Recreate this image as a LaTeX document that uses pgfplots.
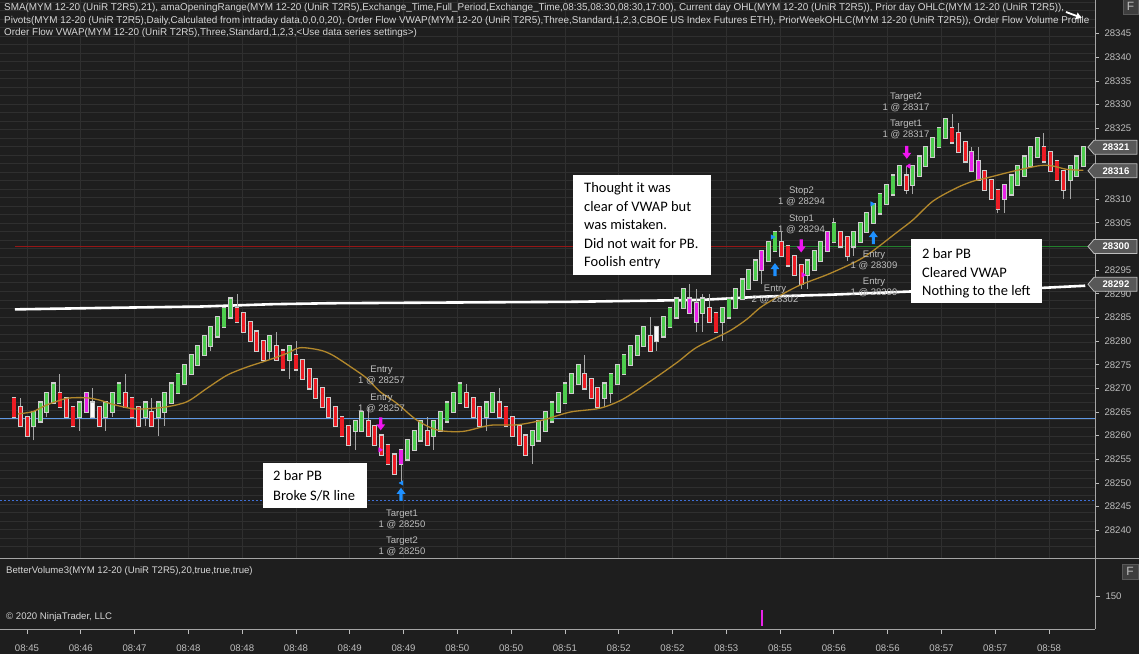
\documentclass[border=0pt]{standalone}
\usepackage{pgfplots}
\pgfplotsset{compat=1.18}
\usepackage{pgfplotstable}
\usepackage{fontspec}
\setmainfont{Liberation Sans}
\newfontfamily\calibri{Carlito}
\usetikzlibrary{arrows.meta}

\definecolor{bgc}{RGB}{30,30,30}
\definecolor{gridc}{RGB}{47,47,47}
\definecolor{upc}{RGB}{78,205,78}
\definecolor{dnc}{RGB}{236,28,36}
\definecolor{mgc}{RGB}{232,36,232}
\definecolor{whc}{RGB}{250,250,250}
\definecolor{edgec}{RGB}{205,205,205}
\definecolor{wickc}{RGB}{165,165,165}
\definecolor{smac}{RGB}{178,136,44}
\definecolor{bluec}{RGB}{96,152,228}
\definecolor{dashc}{RGB}{64,112,214}
\definecolor{pdhc}{RGB}{150,22,22}
\definecolor{cdhc}{RGB}{34,128,44}
\definecolor{lblc}{RGB}{190,190,190}
\definecolor{hdrc}{RGB}{215,215,215}
\definecolor{sepc}{RGB}{165,165,165}
\definecolor{arrm}{RGB}{240,20,240}
\definecolor{arrb}{RGB}{30,144,255}
\definecolor{boxc}{RGB}{88,88,88}

\newcommand\tickf{\fontsize{9.6bp}{11bp}\selectfont}
\newcommand\tlf{\fontsize{9.5bp}{11bp}\selectfont}
\newcommand\hdrf{\fontsize{9.9bp}{12.5bp}\selectfont}
\newcommand\notef{\calibri\fontsize{14.5bp}{18.5bp}\selectfont}

% trade arrows
\pgfdeclareplotmark{dnarrow}{%
  \pgfpathmoveto{\pgfqpoint{-1.6bp}{7bp}}%
  \pgfpathlineto{\pgfqpoint{1.6bp}{7bp}}%
  \pgfpathlineto{\pgfqpoint{1.6bp}{0bp}}%
  \pgfpathlineto{\pgfqpoint{4.5bp}{0bp}}%
  \pgfpathlineto{\pgfqpoint{0bp}{-6bp}}%
  \pgfpathlineto{\pgfqpoint{-4.5bp}{0bp}}%
  \pgfpathlineto{\pgfqpoint{-1.6bp}{0bp}}%
  \pgfpathclose
  \pgfusepathqfill}
\pgfdeclareplotmark{uparrow}{%
  \pgfpathmoveto{\pgfqpoint{-1.6bp}{-7bp}}%
  \pgfpathlineto{\pgfqpoint{1.6bp}{-7bp}}%
  \pgfpathlineto{\pgfqpoint{1.6bp}{0bp}}%
  \pgfpathlineto{\pgfqpoint{4.5bp}{0bp}}%
  \pgfpathlineto{\pgfqpoint{0bp}{6bp}}%
  \pgfpathlineto{\pgfqpoint{-4.5bp}{0bp}}%
  \pgfpathlineto{\pgfqpoint{-1.6bp}{0bp}}%
  \pgfpathclose
  \pgfusepathqfill}

\pgfplotsset{
  table/wickcols/.style={x=i, y=l,
    y error plus expr={\thisrow{h}-\thisrow{l}}, y error minus expr={0}},
  table/bodycols/.style={x=i, y=o,
    y error plus expr={max(\thisrow{c}-\thisrow{o},0)},
    y error minus expr={max(\thisrow{o}-\thisrow{c},0)}},
  table/edgecols/.style={x=i, y=o,
    y error plus expr={max(\thisrow{c}-\thisrow{o},0)+0.25},
    y error minus expr={max(\thisrow{o}-\thisrow{c},0)+0.25}},
  bars/.style={forget plot, draw=none,
    error bars/y dir=both, error bars/y explicit, error bars/error mark=none},
}
% one set of candles: wick, light edge, coloured body
\newcommand\candleset[2]{%
  \addplot[bars, error bars/error bar style={draw=wickc, line width=1bp}] table[wickcols] {#1};
  \addplot[bars, error bars/error bar style={draw=edgec, line width=4.8bp}] table[edgecols] {#1};
  \addplot[bars, error bars/error bar style={draw=#2, line width=3.2bp}] table[bodycols] {#1};}

% bar index, open, high, low, close
\pgfplotstableread{
i o h l c
3 28262 28265 28259 28265
4 28263 28267 28263 28267
5 28265 28269 28264 28269
6 28267 28271 28267 28271
10 28264 28267 28261 28267
14 28264 28267 28261 28267
15 28265 28269 28264 28269
16 28267 28271 28267 28271
20 28264 28267 28262 28267
22 28264 28267 28260 28267
23 28265 28269 28262 28269
24 28267 28271 28267 28271
25 28269 28273 28269 28273
26 28271 28275 28271 28275
27 28273 28277 28273 28277
28 28275 28279 28275 28279
29 28277 28281 28277 28281
30 28279 28283 28278 28283
31 28281 28285 28281 28285
32 28283 28287 28283 28287
33 28285 28289 28285 28289
39 28278 28281 28276 28281
42 28276 28279 28272 28279
52 28261 28263 28257 28263
53 28261 28265 28261 28265
60 28255 28259 28255 28259
61 28257 28261 28257 28261
62 28259 28263 28259 28263
64 28260 28263 28257 28263
65 28261 28265 28261 28265
66 28263 28267 28263 28267
67 28265 28269 28265 28269
68 28267 28271 28267 28271
72 28264 28267 28261 28267
73 28265 28269 28265 28269
79 28258 28261 28254 28261
80 28259 28263 28259 28263
81 28261 28265 28261 28265
82 28263 28267 28263 28267
83 28265 28269 28265 28269
84 28267 28271 28267 28271
85 28269 28273 28269 28273
86 28271 28275 28271 28275
90 28268 28271 28266 28271
91 28269 28273 28267 28273
92 28271 28275 28271 28275
93 28273 28277 28273 28277
94 28275 28279 28275 28279
95 28277 28281 28277 28281
96 28279 28283 28279 28283
99 28281 28285 28281 28285
100 28283 28287 28283 28287
101 28285 28289 28285 28289
102 28287 28291 28287 28291
105 28286 28290 28282 28289
108 28284 28287 28280 28287
109 28285 28289 28285 28289
110 28287 28291 28287 28291
111 28289 28293 28289 28293
112 28291 28295 28291 28295
113 28293 28297 28293 28297
115 28297 28301 28297 28301
116 28299 28303 28299 28303
121 28294 28297 28291 28297
122 28295 28299 28295 28299
123 28297 28301 28297 28301
125 28301 28306 28301 28305
128 28300 28303 28298 28303
129 28301 28305 28301 28305
130 28303 28307 28303 28307
131 28305 28309 28305 28309
132 28307 28311 28307 28311
133 28309 28313 28309 28313
134 28311 28315 28311 28315
135 28313 28317 28313 28317
137 28313 28317 28311 28317
138 28315 28319 28315 28319
139 28317 28321 28317 28321
140 28319 28323 28319 28323
141 28321 28325 28321 28325
142 28323 28327 28323 28327
152 28311 28315 28311 28315
153 28313 28317 28313 28317
154 28315 28319 28315 28319
155 28317 28321 28317 28321
156 28319 28323 28319 28323
161 28314 28317 28310 28317
162 28315 28319 28315 28319
163 28317 28321 28317 28321
}\upbars

\pgfplotstableread{
i o h l c
0 28268 28268 28264 28264
1 28266 28268 28262 28262
2 28264 28264 28260 28260
7 28269 28273 28266 28266
8 28268 28268 28264 28264
9 28266 28266 28262 28262
13 28266 28266 28262 28262
17 28269 28273 28266 28266
18 28268 28268 28264 28264
19 28266 28266 28262 28262
21 28265 28268 28262 28262
34 28287 28290 28284 28284
35 28286 28286 28282 28282
36 28284 28284 28280 28280
37 28282 28282 28278 28278
38 28280 28280 28276 28276
40 28279 28282 28276 28276
41 28278 28278 28274 28274
43 28277 28280 28274 28274
44 28276 28276 28272 28272
45 28274 28274 28270 28270
46 28272 28272 28268 28268
47 28270 28270 28266 28266
48 28268 28268 28264 28264
49 28266 28266 28262 28262
50 28264 28264 28260 28260
51 28262 28262 28258 28258
54 28263 28266 28260 28260
55 28262 28262 28258 28258
56 28260 28260 28256 28256
57 28258 28258 28254 28254
58 28256 28256 28252 28252
63 28261 28264 28258 28258
69 28269 28271 28266 28266
70 28268 28268 28264 28264
71 28266 28266 28262 28262
74 28267 28270 28264 28264
75 28266 28266 28262 28262
76 28264 28264 28260 28260
77 28262 28262 28258 28258
78 28260 28260 28256 28256
87 28273 28277 28270 28270
88 28272 28272 28268 28268
89 28270 28270 28266 28266
97 28281 28285 28278 28278
106 28287 28290 28284 28284
107 28286 28286 28282 28282
117 28301 28303 28298 28298
118 28300 28300 28296 28296
119 28298 28298 28294 28294
120 28296 28296 28291 28292
126 28303 28303 28300 28300
127 28302 28302 28297 28298
136 28315 28317 28311 28312
143 28325 28328 28322 28322
144 28324 28326 28320 28320
145 28322 28322 28318 28318
148 28316 28316 28312 28312
149 28314 28314 28310 28310
150 28312 28312 28307 28308
157 28321 28324 28318 28318
158 28320 28320 28316 28316
159 28318 28318 28314 28314
160 28316 28316 28310 28312
}\dnbars

\pgfplotstableread{
i o h l c
11 28265 28269 28265 28269
59 28254 28257 28250 28257
103 28289 28292 28286 28286
104 28288 28291 28282 28284
114 28295 28299 28292 28299
124 28299 28303 28299 28303
146 28320 28321 28316 28316
147 28318 28321 28314 28314
151 28310 28313 28307 28313
}\mgbars

\pgfplotstableread{
i o h l c
12 28264 28270 28264 28267
98 28280 28283 28278 28283
}\whbars

\begin{document}
\begin{tikzpicture}
\useasboundingbox (0,0) rectangle (1139bp,654bp);
\fill[bgc] (0,0) rectangle (1139bp,654bp);

% price panel
\begin{axis}[
  at={(0bp,96bp)}, anchor=south west, scale only axis,
  width=1095bp, height=558bp,
  xmin=-2.134, xmax=164.79, ymin=28234.14, ymax=28352.11,
  axis line style={draw=none},
  xtick=\empty,
  extra x ticks={1.98,10.18,18.38,26.58,34.78,42.98,51.18,59.38,67.58,75.78,83.98,92.18,100.38,108.58,116.78,124.98,133.18,141.38,149.58,157.78},
  extra x tick labels={},
  extra x tick style={grid=major, tick style={draw=none}},
  major grid style={draw=gridc, line width=0.8bp},
  ytick={28240,28245,28250,28255,28260,28265,28270,28275,28280,28285,28290,28295,28305,28310,28325,28330,28335,28340,28345},
  minor ytick={28236.5,28238.3,28240.1,28241.9,28243.7,28245.5,28247.3,28249.1,28250.9,28252.7,28254.5,28256.3,28258.1,28259.9,28261.7,28263.5,28265.3,28267.1,28268.9,28270.7,28272.5,28274.3,28276.1,28277.9,28279.7,28281.5,28283.3,28285.1,28286.9,28288.7,28290.5,28292.3,28294.1,28295.9,28297.7,28299.5,28301.3,28303.1,28304.9,28306.7,28308.5,28310.3,28312.1,28313.9,28315.7,28317.5,28319.3,28321.1,28322.9,28324.7,28326.5,28328.3,28330.1,28331.9,28333.7,28335.5,28337.3,28339.1,28340.9,28342.7,28344.5,28346.3,28348.1,28349.9,28351.7},
  yminorgrids, minor grid style={draw=gridc, line width=0.8bp},
  ytick pos=right, yticklabel pos=right,
  minor tick length=0pt, major tick length=4bp, tick align=outside,
  tick style={draw=lblc, line width=0.8bp},
  yticklabel style={font=\tickf, text=lblc, xshift=2bp},
  scaled y ticks=false,
  /pgf/number format/1000 sep={},
  /pgf/number format/assume math mode=true,
]
% reference lines
\addplot[dashc, line width=1bp, dash pattern=on 2bp off 2bp] coordinates {(-2.134,28246.3) (164.79,28246.3)};
\addplot[bluec, line width=1.6bp] coordinates {(-2.134,28263.6) (164.79,28263.6)};
\addplot[pdhc, line width=1.5bp] coordinates {(0.15,28300) (115.5,28300)};
\addplot[cdhc, line width=1.5bp] coordinates {(115.5,28300) (164.79,28300)};
% VWAP
\addplot[white, line width=2.6bp] coordinates {
  (0.15,28286.7) (13.1,28287.0) (28.4,28287.3) (39.5,28287.8) (48.2,28288.0)
  (84.8,28288.3) (104.6,28288.7) (114.2,28289.4) (124.4,28289.8) (137.0,28290.5)
  (150.3,28290.8) (163.3,28291.7)};
% candles
\candleset{\upbars}{upc}
\candleset{\dnbars}{dnc}
\candleset{\mgbars}{mgc}
\candleset{\whbars}{whc}
% SMA 21
\addplot[smac, line width=1.3bp, smooth] coordinates {
  (0.6,28264.6) (2.9,28265.1) (5.0,28266.5) (8.1,28267.9) (11.1,28268.0) (13.1,28267.5)
  (15.1,28266.6) (18.1,28265.7) (20.3,28265.7) (23.3,28266.1) (26.4,28267.2) (29.4,28270.0)
  (32.5,28272.8) (35.5,28274.5) (38.6,28275.9) (41.6,28277.4) (43.6,28278.6) (46.6,28278.1)
  (48.6,28277.0) (51.7,28274.2) (53.8,28272.1) (55.8,28269.3) (58.4,28266.8) (61.4,28263.3)
  (64.5,28261.2) (68.4,28260.9) (72.6,28262.2) (76.7,28262.3) (80.6,28263.3) (84.8,28265.0)
  (89.3,28265.8) (92.8,28267.7) (97.0,28271.5) (101.1,28275.5) (104.1,28278.7) (108.9,28282.0)
  (111.7,28284.6) (114.2,28287.5) (119.3,28291.5) (124.4,28294.3) (129.5,28297.7) (134.6,28303.0)
  (137.1,28305.7) (140.1,28309.6) (143.7,28312.4) (146.2,28313.8) (148.3,28314.5) (152.3,28315.9)
  (156.4,28317.1) (158.4,28317.0) (160.5,28316.3) (163.0,28316.1)};
% executions
\addplot[only marks, mark=dnarrow, color=arrm] coordinates {(55.9,28262.4) (120.0,28300.0) (136.1,28319.8)};
\addplot[only marks, mark=uparrow, color=arrb] coordinates {(59.0,28247.7) (116.0,28295.2) (131.0,28302.0)};
\addplot[only marks, mark=triangle*, mark size=2.6bp, color=arrb, mark options={rotate=-90}] coordinates {(115.6,28302) (130.8,28309)};
\addplot[only marks, mark=triangle*, mark size=2.6bp, color=arrb, mark options={rotate=90}] coordinates {(59.1,28250)};
\addplot[only marks, mark=triangle*, mark size=2.6bp, color=arrm, mark options={rotate=-90}] coordinates {(55.8,28257) (120.3,28294)};
\addplot[only marks, mark=triangle*, mark size=2.6bp, color=arrm, mark options={rotate=90}] coordinates {(136.4,28317)};
\end{axis}

% volume panel
\begin{axis}[
  at={(0bp,25bp)}, anchor=south west, scale only axis,
  width=1095bp, height=70bp,
  xmin=-2.134, xmax=164.79, ymin=0, ymax=318,
  axis line style={draw=none},
  xtick={1.98,10.18,18.38,26.58,34.78,42.98,51.18,59.38,67.58,75.78,83.98,92.18,100.38,108.58,116.78,124.98,133.18,141.38,149.58,157.78},
  xticklabels={08:45,08:46,08:47,08:48,08:48,08:48,08:49,08:49,08:50,08:50,08:51,08:52,08:52,08:53,08:55,08:56,08:56,08:57,08:57,08:58},
  xtick pos=left,
  ytick={150}, ytick pos=right, yticklabel pos=right,
  major tick length=5bp, tick align=outside,
  tick style={draw=lblc, line width=0.8bp},
  xticklabel style={font=\tickf, text=lblc, yshift=-7bp},
  yticklabel style={font=\tickf, text=lblc, xshift=2bp},
  /pgf/number format/assume math mode=true,
]
\addplot[mgc, line width=2.5bp] coordinates {(114,14) (114,86)};
\end{axis}

% overlays in pixel coordinates (origin top left)
\begin{scope}[shift={(0bp,654bp)}, x=1bp, y=-1bp]
  \draw[sepc, line width=1bp] (0,558.5) -- (1139,558.5);
  \draw[sepc, line width=1bp] (0,629.5) -- (1095,629.5);
  \draw[sepc, line width=1bp] (1095,0) -- (1095,629.5);

  \node[anchor=north west, inner sep=0, align=left, font=\hdrf, text=hdrc] at (4,3.2) {%
    SMA(MYM 12-20 (UniR T2R5),21), amaOpeningRange(MYM 12-20 (UniR T2R5),Exchange\_Time,Full\_Period,Exchange\_Time,08:35,08:30,08:30,17:00), Current day OHL(MYM 12-20 (UniR T2R5)), Prior day OHLC(MYM 12-20 (UniR T2R5)),\\
    Pivots(MYM 12-20 (UniR T2R5),Daily,Calculated from intraday data,0,0,0,20), Order Flow VWAP(MYM 12-20 (UniR T2R5),Three,Standard,1,2,3,CBOE US Index Futures ETH), PriorWeekOHLC(MYM 12-20 (UniR T2R5)), Order Flow Volume Profile\\
    Order Flow VWAP(MYM 12-20 (UniR T2R5),Three,Standard,1,2,3,<Use data series settings>)};
  \draw[white, line width=1.8bp, -{Latex[length=6bp,width=8bp]}] (1066,12) -- (1082,18);

  \node[anchor=west, inner sep=0, font=\tickf, text=hdrc] at (6,571) {BetterVolume3(MYM 12-20 (UniR T2R5),20,true,true,true)};
  \node[anchor=west, inner sep=0, font=\tickf, text=hdrc] at (6,617) {© 2020 NinjaTrader, LLC};

  % F buttons
  \filldraw[fill=boxc!70!black, draw=boxc] (1123,-1) rectangle (1138,14);
  \node[font=\fontsize{12bp}{12bp}\selectfont, text=lblc] at (1130.5,6.5) {F};
  \filldraw[fill=boxc!70!black, draw=boxc] (1122,564) rectangle (1138,579);
  \node[font=\fontsize{12bp}{12bp}\selectfont, text=lblc] at (1130,571.5) {F};

  % last value flags
  \foreach \yy/\vv in {147.2/28321,170.8/28316,246.5/28300,284.3/28292}{
    \filldraw[fill=boxc, draw=lblc, line width=0.8bp] (1088,\yy) -- ++(6,-7) -- ++(43,0) -- ++(0,14) -- ++(-43,0) -- cycle;
    \node[font=\bfseries\tickf, text=white] at (1116,\yy) {\vv};
  }

  % trade labels
  \tikzset{tl/.style={font=\tlf, text=lblc, align=center, inner sep=0}}
  \node[tl] at (381.5,375.5) {Entry\\1 @ 28257};
  \node[tl] at (381.5,403) {Entry\\1 @ 28257};
  \node[tl] at (402,519.5) {Target1\\1 @ 28250};
  \node[tl] at (402,546) {Target2\\1 @ 28250};
  \node[tl] at (801.5,196.5) {Stop2\\1 @ 28294};
  \node[tl] at (801.5,224.5) {Stop1\\1 @ 28294};
  \node[tl] at (775,294) {Entry\\2 @ 28302};
  \node[tl] at (874,260.5) {Entry\\1 @ 28309};
  \node[tl] at (874,287.5) {Entry\\1 @ 28309};
  \node[tl] at (906,102) {Target2\\1 @ 28317};
  \node[tl] at (906,129.5) {Target1\\1 @ 28317};

  % notes
  \fill[white] (573,175) rectangle (711,275);
  \node[anchor=base west, inner sep=0, font=\notef] at (584,193) {Thought it was};
  \node[anchor=base west, inner sep=0, font=\notef] at (584,211.5) {clear of VWAP but};
  \node[anchor=base west, inner sep=0, font=\notef] at (584,230) {was mistaken.};
  \node[anchor=base west, inner sep=0, font=\notef] at (584,248.5) {Did not wait for PB.};
  \node[anchor=base west, inner sep=0, font=\notef] at (584,267) {Foolish entry};

  \fill[white] (911,239) rectangle (1042,303);
  \node[anchor=base west, inner sep=0, font=\notef] at (922,259) {2 bar PB};
  \node[anchor=base west, inner sep=0, font=\notef] at (922,277.5) {Cleared VWAP};
  \node[anchor=base west, inner sep=0, font=\notef] at (922,296) {Nothing to the left};

  \fill[white] (263,463) rectangle (367,508);
  \node[anchor=base west, inner sep=0, font=\notef] at (273,481) {2 bar PB};
  \node[anchor=base west, inner sep=0, font=\notef] at (273,500.5) {Broke S/R line};
\end{scope}
\end{tikzpicture}
\end{document}
